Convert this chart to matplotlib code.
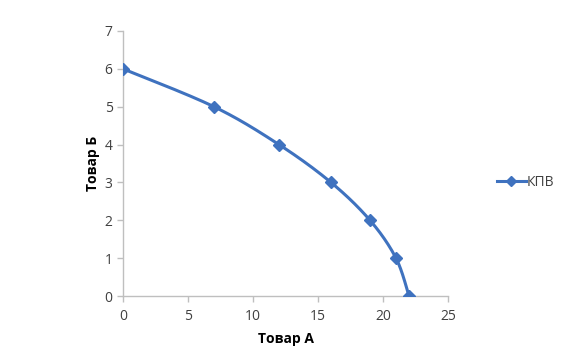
import numpy as np
import matplotlib
matplotlib.use("Agg")
import matplotlib.pyplot as plt

# production possibility frontier points
goods_a = [0, 7, 12, 16, 19, 21, 22]
goods_b = [6, 5, 4, 3, 2, 1, 0]
series_name = "КПВ"
x_ticks = [0, 5, 10, 15, 20, 25]
y_ticks = [0, 1, 2, 3, 4, 5, 6, 7]

plt.rcParams['font.family'] = ['Open Sans', 'DejaVu Sans']

BLUE = '#3F72BF'
GREY = '#BFBFBF'


def smooth(xs, ys, n=40):
    # Excel-like smoothed line: cubic Bezier with Catmull-Rom control points
    p = np.column_stack([xs, ys]).astype(float)
    pts = []
    for i in range(len(p) - 1):
        p0 = p[i - 1] if i > 0 else p[i]
        p1 = p[i]
        p2 = p[i + 1]
        p3 = p[i + 2] if i + 2 < len(p) else p[i + 1]
        c1 = p1 + (p2 - p0) / 6.0
        c2 = p2 - (p3 - p1) / 6.0
        t = np.linspace(0, 1, n)[:, None]
        seg = ((1 - t) ** 3) * p1 + 3 * ((1 - t) ** 2) * t * c1 + 3 * (1 - t) * t ** 2 * c2 + t ** 3 * p2
        pts.append(seg if i == 0 else seg[1:])
    pts = np.vstack(pts)
    return pts[:, 0], pts[:, 1]


fig = plt.figure(figsize=(5.73, 3.52), dpi=100)
ax = fig.add_axes([123 / 573, 56 / 352, 325 / 573, 265 / 352])

sx, sy = smooth(goods_a, goods_b)
ax.plot(sx, sy, color=BLUE, lw=2.2, solid_capstyle='round', zorder=2)
ax.plot(goods_a, goods_b, linestyle='none', marker='D', ms=6.5, color=BLUE, zorder=3)
# legend proxy
ax.plot([], [], color=BLUE, lw=2.2, marker='D', ms=5, label=series_name)

ax.set_xlim(0, 25)
ax.set_ylim(0, 7)
ax.set_xticks(x_ticks)
ax.set_yticks(y_ticks)
for s in ['top', 'right']:
    ax.spines[s].set_visible(False)
for s in ['left', 'bottom']:
    ax.spines[s].set_color(GREY)
    ax.spines[s].set_linewidth(1)
ax.tick_params(colors=GREY, labelcolor='#404040', labelsize=10, length=4, width=1)
ax.tick_params(axis='x', pad=5)

ax.set_xlabel('Товар А', fontsize=10, fontweight='bold', color='#000000', labelpad=6)
ax.set_ylabel('Товар Б', fontsize=10, fontweight='bold', color='#000000', labelpad=3)

fig.legend(loc='center left', bbox_to_anchor=(484 / 573, 170 / 352), frameon=False,
           fontsize=10, handlelength=2.1, handletextpad=0.05, labelcolor='#404040')

fig.savefig('out.png', dpi=100)
